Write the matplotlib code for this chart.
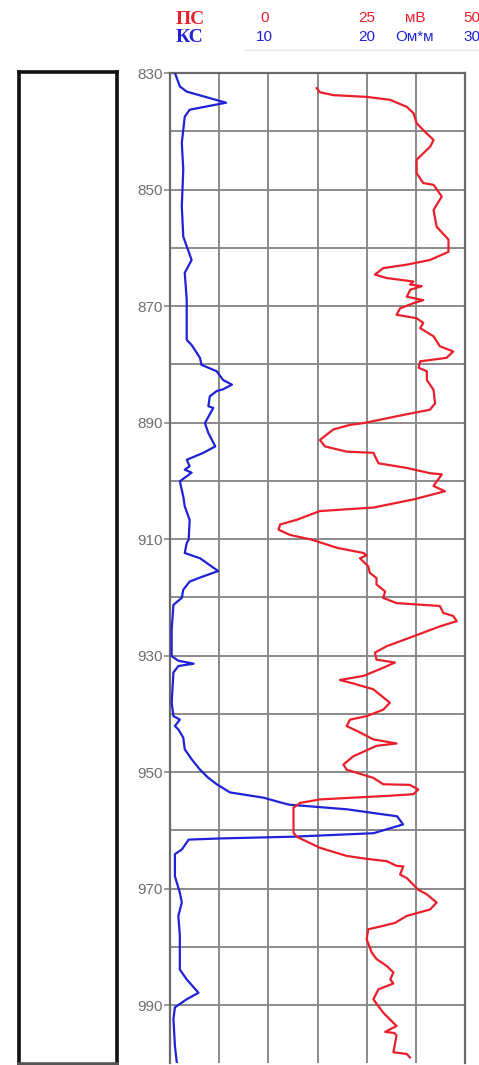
import numpy as np
import matplotlib.pyplot as plt
from matplotlib.patches import Rectangle

plt.rcParams['font.family'] = ['Liberation Sans', 'DejaVu Sans']

#%% data read from the log (depth in m)
ks_depth = [830.0, 832.3, 833.2, 835.1, 836.3, 837.5, 842.0, 846.6, 852.9, 858.1,
            862.1, 864.3, 868.9, 875.8, 876.7, 878.9, 880.1, 881.2, 882.7, 883.5,
            884.3, 884.6, 885.5, 887.2, 887.5, 890.1, 891.8, 894.1, 895.2, 896.4,
            897.5, 898.1, 898.6, 900.1, 902.7, 904.4, 906.7, 910.1, 910.7, 912.4,
            913.3, 915.5, 916.4, 917.3, 918.7, 920.1, 921.3, 925.5, 930.1, 930.9,
            931.4, 931.8, 932.9, 938.1, 940.4, 941.0, 942.1, 942.7, 944.1, 946.1,
            947.8, 949.5, 951.0, 952.1, 953.5, 954.4, 955.2, 955.6, 956.4, 957.6,
            959.0, 960.5, 961.1, 961.4, 961.6, 963.3, 964.1, 967.9, 970.7, 972.4,
            974.7, 978.1, 983.9, 985.6, 987.9, 989.0, 990.4, 992.4, 997.0, 1000.0]
ks_val = [0.5, 1.0, 1.7, 5.7, 2.0, 1.5, 1.2, 1.35, 1.2, 1.35,
          2.2, 1.5, 1.7, 1.7, 2.2, 3.05, 3.2, 4.75, 5.4, 6.3,
          5.4, 4.75, 4.05, 3.9, 4.4, 3.55, 3.9, 4.6, 3.4, 1.7,
          2.0, 1.5, 2.2, 1.0, 1.35, 1.5, 2.0, 1.9, 1.7, 1.5,
          3.05, 4.9, 3.4, 2.0, 1.35, 1.2, 0.35, 0.17, 0.17, 0.85,
          2.4, 0.85, 0.35, 0.17, 0.35, 1.0, 0.5, 0.85, 1.35, 1.5,
          2.2, 3.0, 3.9, 4.75, 6.1, 9.5, 11.2, 12.1, 18.0, 23.1,
          23.7, 20.7, 12.5, 5.1, 1.9, 1.2, 0.5, 0.5, 1.0, 1.2,
          0.85, 1.0, 1.0, 1.7, 2.9, 1.7, 0.5, 0.35, 0.5, 0.7]

ps_depth = [832.6, 833.3, 833.8, 834.1, 834.6, 835.8, 836.9, 838.6, 839.8, 841.5,
            842.6, 844.9, 847.2, 848.9, 849.2, 851.2, 853.5, 856.4, 858.6, 860.7,
            862.1, 862.9, 863.5, 864.6, 865.2, 865.8, 866.3, 866.6, 867.2, 868.4,
            869.0, 869.5, 870.4, 871.5, 872.1, 872.9, 873.8, 875.2, 876.9, 877.8,
            878.9, 879.5, 880.6, 881.2, 882.7, 884.4, 886.7, 887.8, 888.7, 890.1,
            890.4, 891.2, 893.0, 894.1, 895.0, 895.2, 897.0, 897.8, 898.7, 898.9,
            900.9, 901.8, 903.2, 904.6, 905.2, 906.7, 907.5, 908.4, 909.3, 910.1,
            911.5, 912.4, 912.8, 913.3, 914.7, 915.8, 916.7, 917.8, 919.0, 920.1,
            921.0, 921.5, 922.7, 923.2, 924.1, 925.0, 926.7, 928.4, 929.5, 930.7,
            931.2, 932.1, 933.5, 934.2, 934.8, 935.8, 938.1, 939.3, 940.4, 941.0,
            942.1, 943.2, 944.4, 945.1, 945.5, 947.3, 948.7, 949.6, 951.0, 952.1,
            952.2, 953.0, 953.8, 954.1, 954.7, 955.3, 956.1, 960.4, 961.1, 963.0,
            964.4, 964.9, 965.3, 966.1, 966.2, 967.6, 968.2, 970.2, 971.0, 972.4,
            973.6, 974.7, 975.9, 976.4, 977.0, 978.7, 981.0, 982.1, 983.3, 984.4,
            985.6, 986.3, 987.3, 989.0, 991.3, 993.6, 994.6, 994.8, 995.2, 998.1,
            998.4, 999.0]
ps_val = [12.3, 13.1, 16.5, 25.0, 30.9, 35.2, 36.9, 37.7, 39.4, 42.0,
          41.2, 37.7, 37.7, 39.4, 42.0, 44.1, 42.0, 42.8, 45.8, 45.8,
          41.1, 35.2, 29.2, 27.1, 30.1, 36.9, 36.0, 39.0, 36.1, 35.2,
          39.4, 36.9, 33.5, 32.6, 37.7, 39.4, 38.6, 42.0, 43.6, 47.0,
          45.3, 38.6, 38.2, 40.3, 40.3, 42.0, 42.4, 41.1, 34.3, 24.2,
          20.8, 16.5, 13.1, 14.4, 19.9, 26.7, 28.0, 35.2, 41.1, 44.1,
          42.0, 44.9, 36.9, 26.7, 13.1, 7.2, 3.0, 2.6, 5.5, 11.0,
          17.4, 24.2, 25.0, 23.3, 25.4, 25.8, 27.5, 27.5, 29.7, 29.2,
          32.6, 43.6, 44.5, 47.0, 47.9, 43.6, 36.9, 30.1, 27.1, 27.5,
          32.2, 29.2, 24.2, 18.2, 21.6, 26.7, 30.9, 29.2, 25.0, 20.8,
          19.9, 23.3, 26.7, 32.6, 27.5, 21.6, 19.1, 19.9, 26.7, 29.2,
          36.0, 38.1, 36.9, 30.1, 13.1, 8.1, 6.4, 6.4, 7.2, 13.1,
          19.9, 25.0, 30.1, 32.6, 34.3, 33.5, 35.2, 38.1, 40.3, 42.8,
          41.1, 35.2, 32.2, 29.2, 25.4, 25.0, 26.3, 27.5, 30.1, 31.8,
          31.0, 31.8, 28.0, 26.7, 29.2, 32.6, 29.7, 32.0, 32.6, 31.8,
          35.2, 36.0]

depth_ticks = [830, 850, 870, 890, 910, 930, 950, 970, 990]

#%% figure
W, H = 479, 1065
dpi = 100
fig = plt.figure(figsize=(W / dpi, H / dpi), dpi=dpi)

def fx(px):
    return px / W

def fy(py):
    return 1 - py / H

grid_col = '#8a8a8a'
blue = '#1f22d6'
red = '#ea1f2b'

# left lithology column (empty)
col = fig.add_axes([fx(19), fy(1064), fx(117) - fx(19), fy(72) - fy(1064)])
col.set_xticks([])
col.set_yticks([])
for s in col.spines.values():
    s.set_linewidth(2.6)
    s.set_color('#111111')
col.spines['bottom'].set_color('#555555')

# log track
ax = fig.add_axes([fx(170), fy(1063.3), fx(465) - fx(170), fy(73) - fy(1063.3)])
ax.set_xlim(0, 30)
ax.set_ylim(1000, 830)
ax.set_xticks(np.arange(5, 30, 5))
ax.set_yticks(depth_ticks)
ax.set_yticks(np.arange(840, 1000, 20), minor=True)
ax.grid(True, which='both', color=grid_col, lw=1.4)
ax.tick_params(axis='x', length=0, labelbottom=False)
ax.tick_params(axis='y', which='major', length=4, width=1.2, color=grid_col,
               labelsize=11, labelcolor='#6e6e6e', pad=1)
ax.tick_params(axis='y', which='minor', length=0)
for s in ['left', 'right', 'top']:
    ax.spines[s].set_color('#6a6a6a')
    ax.spines[s].set_linewidth(1.6)
ax.spines['bottom'].set_visible(False)

ax.plot(ks_val, ks_depth, color=blue, lw=1.6, zorder=3)

ax2 = ax.twiny()
ax2.set_xlim(-25, 50)
ax2.set_ylim(1000, 830)
ax2.set_xticks([])
for s in ax2.spines.values():
    s.set_visible(False)
ax2.plot(ps_val, ps_depth, color=red, lw=1.6, zorder=3)

#%% header
fig.text(fx(190), fy(19), 'ПС', color=red, family='Liberation Serif',
         fontweight='bold', fontsize=14, ha='center', va='center')
fig.text(fx(190), fy(38), 'КС', color=blue, family='Liberation Serif',
         fontweight='bold', fontsize=14, ha='center', va='center')
for x, t in zip([265, 367, 415, 472], ['0', '25', 'мВ', '50']):
    fig.text(fx(x), fy(18), t, color=red, fontsize=11, ha='center', va='center')
for x, t in zip([264, 367, 415, 472], ['10', '20', 'Ом*м', '30']):
    fig.text(fx(x), fy(37), t, color=blue, fontsize=11, ha='center', va='center')
fig.add_artist(plt.Line2D([fx(245), fx(479)], [fy(50), fy(50)],
                          color='#e4e4ee', lw=1.0))

plt.savefig('out.png', dpi=dpi)
